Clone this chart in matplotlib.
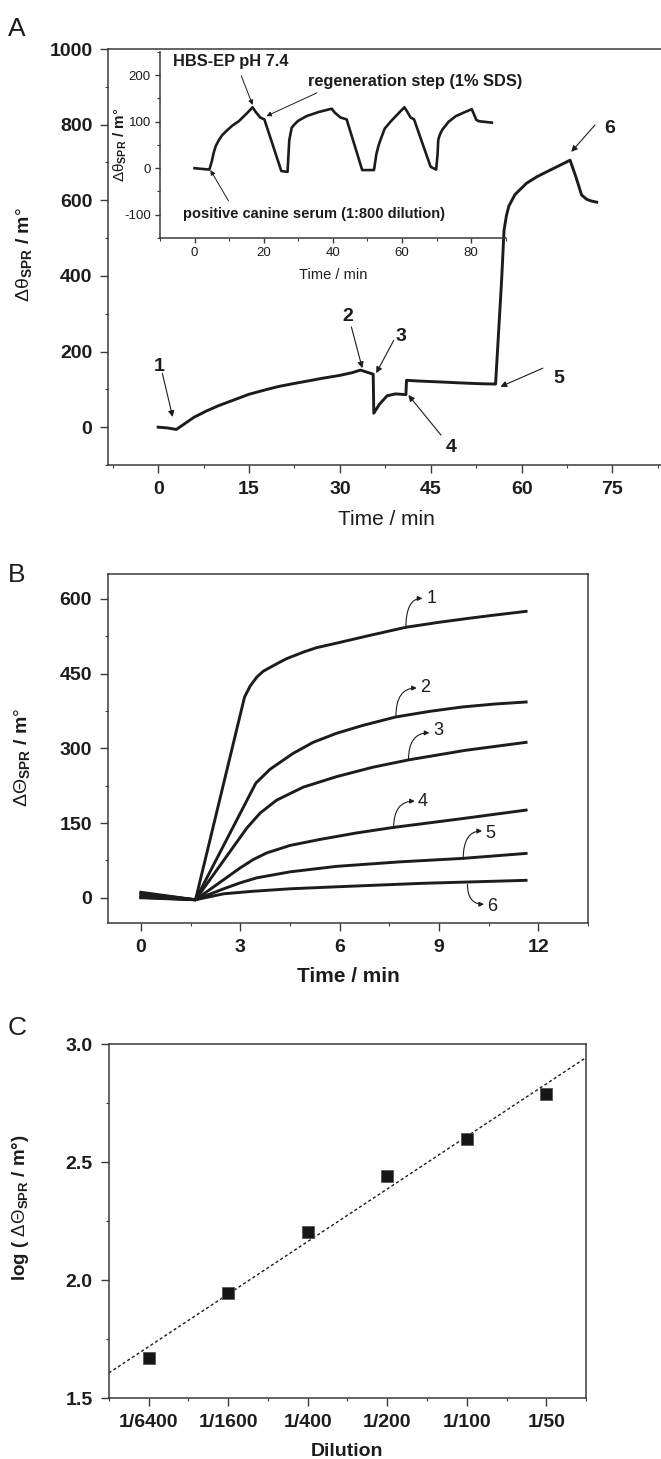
import numpy as np
import matplotlib
matplotlib.use("Agg")
import matplotlib.pyplot as plt
from matplotlib.ticker import MultipleLocator, FixedLocator, FormatStrFormatter
from matplotlib.patches import FancyArrowPatch

plt.rcParams["font.family"] = ["Liberation Sans", "DejaVu Sans"]
plt.rcParams["mathtext.fontset"] = "custom"
plt.rcParams["mathtext.rm"] = "Liberation Sans"
plt.rcParams["mathtext.bf"] = "Liberation Sans:bold"
plt.rcParams["mathtext.it"] = "Liberation Sans:italic"
plt.rcParams["mathtext.sf"] = "Liberation Sans"
plt.rcParams["axes.unicode_minus"] = False

INK = "#1c1c1c"
SPINE = "#3a3a3a"

# --- Panel A: full sensorgram
a_time = [0, 1.5, 3.0, 4.0, 5.9, 8, 10, 12.5, 15, 18, 20, 22.6, 25, 27, 30, 32, 33.4,
          35.5, 35.6, 36.5, 37.8, 39.2, 40.9, 41.0, 43, 46, 50, 53, 55.7,
          56.7, 57.1, 57.5, 57.9, 58.9, 60.8, 62.5, 64.1, 66, 68.0, 69.0, 69.9, 70.7, 71.5, 72.4]
a_signal = [0, -2, -6, 5, 26, 43, 57, 72, 87, 100, 108, 116, 123, 129, 137, 144, 151,
            140, 37, 60, 83, 88, 86, 124, 122, 120, 117, 115, 114,
            389, 521, 560, 585, 615, 645, 662, 675, 690, 706, 660, 614, 603, 598, 595]

# step labels 1..6: text position, arrow tail, arrow head
a_steps = ["1", "2", "3", "4", "5", "6"]
a_step_text = [(0.2, 160), (31.3, 292), (40.0, 241), (48.4, -53), (66.2, 129), (74.6, 791)]
a_step_tail = [(0.7, 142), (31.9, 265), (38.9, 230), (46.7, -21), (63.5, 156), (72.1, 799)]
a_step_head = [(2.4, 27), (33.7, 156), (36.0, 143), (41.3, 85), (56.5, 107), (68.2, 728)]

# --- Inset: regeneration cycles
ins_time = [0, 4.3, 5.0, 5.5, 6.1, 7.0, 8.0, 9.2, 11, 12.8, 15, 16.8, 17.6, 19.0, 20.2, 25.1, 26.9,
            27.4, 28.1, 29.0, 30, 32.4, 36, 39.7, 40.5, 42.2, 44.0, 48.5, 51.9,
            52.6, 53.2, 53.8, 55, 56.8, 59, 60.7, 61.5, 62.5, 63.5, 68.3, 69.9,
            70.3, 70.5, 71.0, 71.7, 73.5, 75.6, 78, 80.2, 81.5, 82.3, 86]
ins_signal = [0, -3, 15, 32, 47, 60, 71, 80, 92, 101, 117, 131, 122, 109, 105, -6, -8,
              60, 87, 95, 102, 112, 121, 128, 120, 109, 105, -4, -4,
              30, 48, 61, 85, 101, 118, 131, 122, 109, 105, 3, -3,
              30, 61, 73, 83, 100, 112, 120, 127, 104, 101, 98]
ins_notes = ["HBS-EP pH 7.4", "regeneration step (1% SDS)", "positive canine serum (1:800 dilution)"]
ins_note_size = [11.8, 11.8, 10.5]
ins_note_text = [(10.4, 230), (63.8, 186), (34.6, -98)]
ins_note_tail = [(13.5, 199), (35.4, 162), (9.8, -70)]
ins_note_head = [(16.8, 136), (20.8, 112), (4.6, -4)]

# --- Panel B: dilution series sensorgrams
b_times = [
    [0, 1.65, 3.13, 3.3, 3.5, 3.7, 4.14, 4.4, 4.9, 5.3, 5.9, 6.8, 8.0, 9.0, 9.9, 10.5, 11.63],
    [0, 1.65, 3.47, 3.9, 4.6, 5.2, 5.9, 6.7, 7.7, 8.7, 9.7, 10.7, 11.63],
    [0, 1.65, 3.2, 3.6, 4.1, 4.9, 5.9, 7.0, 8.1, 9.8, 11.63],
    [0, 1.65, 3.0, 3.4, 3.8, 4.5, 5.4, 6.5, 7.6, 9.6, 11.63],
    [0, 1.65, 2.5, 3.0, 3.5, 4.5, 5.9, 7.8, 9.7, 11.63],
    [0, 1.65, 2.5, 3.38, 4.5, 5.9, 8.5, 11.63],
]
b_values = [
    [11, -4, 403, 425, 443, 455, 471, 480, 493, 502, 511, 525, 543, 553, 561, 566, 575],
    [9, -4, 230, 258, 290, 312, 330, 346, 363, 374, 383, 389, 393],
    [7, -4, 140, 170, 196, 222, 243, 262, 277, 296, 312],
    [3, -4, 60, 77, 90, 105, 117, 130, 141, 158, 176],
    [1, -4, 18, 30, 40, 52, 63, 72, 79, 89],
    [0, -4, 8, 13, 18, 22, 29, 35],
]
b_labels = ["1", "2", "3", "4", "5", "6"]
b_label_text = [(8.78, 600), (8.59, 423), (8.97, 336), (8.52, 194), (10.55, 130), (10.62, -17)]
b_label_from = [(8.0, 541), (7.7, 364), (8.08, 277), (7.63, 140), (9.73, 77), (9.86, 27)]
b_label_to = [(8.5, 601), (8.33, 421), (8.71, 331), (8.27, 194), (10.3, 134), (10.36, -13)]

# --- Panel C: log response vs dilution
c_dilution = ["1/6400", "1/1600", "1/400", "1/200", "1/100", "1/50"]
c_logresp = [1.67, 1.945, 2.203, 2.44, 2.598, 2.79]


def style_axes(ax, labelsize=14, bold=True):
    for s in ax.spines.values():
        s.set_color(SPINE)
        s.set_linewidth(1.1)
    ax.tick_params(which="major", direction="out", length=5.5, width=1.0, color=SPINE,
                   labelsize=labelsize, labelcolor=INK, pad=6)
    ax.tick_params(which="minor", direction="out", length=2.5, width=0.8, color=SPINE)
    if bold:
        for lab in ax.get_xticklabels() + ax.get_yticklabels():
            lab.set_fontweight("bold")


def arrow(ax, tail, head, lw=0.8, scale=9, conn="arc3"):
    ax.add_patch(FancyArrowPatch(tail, head, arrowstyle="-|>", mutation_scale=scale,
                                 lw=lw, color=INK, connectionstyle=conn,
                                 shrinkA=0, shrinkB=0, clip_on=False))


fig = plt.figure(figsize=(6.61, 14.59), dpi=100)

# ================= Panel A =================
ax_a = fig.add_axes([0.1641, 0.6813, 0.8404, 0.2851])
ax_a.plot(a_time, a_signal, color=INK, lw=2.1, solid_joinstyle="round")
ax_a.set_xlim(-8.2, 83.5)
ax_a.set_ylim(-100, 1000)
ax_a.xaxis.set_major_locator(FixedLocator([0, 15, 30, 45, 60, 75]))
ax_a.xaxis.set_minor_locator(MultipleLocator(7.5))
ax_a.yaxis.set_major_locator(MultipleLocator(200))
ax_a.yaxis.set_minor_locator(MultipleLocator(100))
ax_a.spines["right"].set_visible(False)
style_axes(ax_a)
ax_a.set_xlabel("Time / min", fontsize=15, color=INK, va="center")
ax_a.xaxis.set_label_coords(0.5, -0.130)
ax_a.set_ylabel(r"Δθ$_{\mathbf{SPR}}$ $\mathbf{/\ m}$°", fontsize=14, color=INK, va="center")
ax_a.yaxis.set_label_coords(-0.152, 0.505)
for lab, txt, tail, head in zip(a_steps, a_step_text, a_step_tail, a_step_head):
    ax_a.text(txt[0], txt[1], lab, fontsize=14, fontweight="bold", color=INK,
              ha="center", va="center")
    arrow(ax_a, tail, head)

# inset
ax_in = fig.add_axes([0.242, 0.8369, 0.523, 0.1275])
ax_in.set_facecolor("none")
ax_in.plot(ins_time, ins_signal, color=INK, lw=1.9, solid_joinstyle="round")
ax_in.set_xlim(-10, 90)
ax_in.set_ylim(-150, 250)
ax_in.xaxis.set_major_locator(FixedLocator([0, 20, 40, 60, 80]))
ax_in.xaxis.set_minor_locator(MultipleLocator(10))
ax_in.yaxis.set_major_locator(FixedLocator([-100, 0, 100, 200]))
ax_in.yaxis.set_minor_locator(MultipleLocator(50))
ax_in.spines["right"].set_visible(False)
ax_in.spines["top"].set_visible(False)
style_axes(ax_in, labelsize=9.5, bold=False)
ax_in.tick_params(which="major", length=3.5, pad=3)
ax_in.tick_params(which="minor", length=2)
ax_in.set_xlabel("Time / min", fontsize=10.5, color=INK, va="center")
ax_in.xaxis.set_label_coords(0.5, -0.199)
ax_in.set_ylabel(r"Δθ$_{\mathbf{SPR}}$ $\mathbf{/\ m}$°", fontsize=11, color=INK, va="center")
ax_in.yaxis.set_label_coords(-0.116, 0.5)
for note, fs, txt, tail, head in zip(ins_notes, ins_note_size, ins_note_text,
                                      ins_note_tail, ins_note_head):
    ax_in.text(txt[0], txt[1], note, fontsize=fs, fontweight="bold", color=INK,
               ha="center", va="center", clip_on=False)
    arrow(ax_in, tail, head, lw=0.7, scale=7)

fig.text(0.012, 1 - 17 / 1459, "A", fontsize=19, color=INK, va="top", ha="left")

# ================= Panel B =================
ax_b = fig.add_axes([0.163, 0.3676, 0.7266, 0.239])
for t, v in zip(b_times, b_values):
    ax_b.plot(t, v, color=INK, lw=2.1, solid_joinstyle="round")
ax_b.set_xlim(-1, 13.5)
ax_b.set_ylim(-50, 650)
ax_b.xaxis.set_major_locator(MultipleLocator(3))
ax_b.xaxis.set_minor_locator(MultipleLocator(1.5))
ax_b.yaxis.set_major_locator(MultipleLocator(150))
ax_b.yaxis.set_minor_locator(MultipleLocator(75))
style_axes(ax_b)
ax_b.set_xlabel("Time / min", fontsize=15, fontweight="bold", color=INK, va="center")
ax_b.xaxis.set_label_coords(0.5, -0.153)
ax_b.set_ylabel(r"ΔΘ$_{\mathbf{SPR}}$ $\mathbf{/\ m}$°", fontsize=14, color=INK, va="center")
ax_b.yaxis.set_label_coords(-0.178, 0.475)
for lab, txt, p0, p1 in zip(b_labels, b_label_text, b_label_from, b_label_to):
    ax_b.text(txt[0], txt[1], lab, fontsize=13, color=INK, ha="center", va="center")
    arrow(ax_b, p0, p1, lw=0.8, scale=7, conn="angle3,angleA=90,angleB=0")

fig.text(0.012, 1 - 563 / 1459, "B", fontsize=19, color=INK, va="top", ha="left")

# ================= Panel C =================
ax_c = fig.add_axes([0.1646, 0.0418, 0.722, 0.2426])
xpos = np.arange(len(c_dilution))
slope, icpt = np.polyfit(xpos, c_logresp, 1)
ax_c.set_xlim(-0.5, 5.5)
ax_c.set_ylim(1.5, 3.0)
xl = np.array(ax_c.get_xlim())
ax_c.plot(xl, slope * xl + icpt, color=INK, lw=1.0, dashes=(2.2, 1.8))
ax_c.plot(xpos, c_logresp, ls="none", marker="s", ms=9, color="#161616",
          markeredgecolor="#555555", markeredgewidth=0.6)
ax_c.set_xticks(xpos)
ax_c.set_xticklabels(c_dilution)
ax_c.xaxis.set_minor_locator(MultipleLocator(0.5))
ax_c.yaxis.set_major_locator(MultipleLocator(0.5))
ax_c.yaxis.set_minor_locator(MultipleLocator(0.25))
ax_c.yaxis.set_major_formatter(FormatStrFormatter("%.1f"))
style_axes(ax_c)
ax_c.set_xlabel("Dilution", fontsize=14, fontweight="bold", color=INK, va="center")
ax_c.xaxis.set_label_coords(0.5, -0.15)
ax_c.set_ylabel(r"log ( $\mathrm{ΔΘ}$$_{\mathbf{SPR}}$ / m°)", fontsize=13.5,
                fontweight="bold", color=INK, va="center")
ax_c.yaxis.set_label_coords(-0.186, 0.537)

fig.text(0.012, 1 - 1016 / 1459, "C", fontsize=19, color=INK, va="top", ha="left")

fig.savefig("out.png", dpi=100)
